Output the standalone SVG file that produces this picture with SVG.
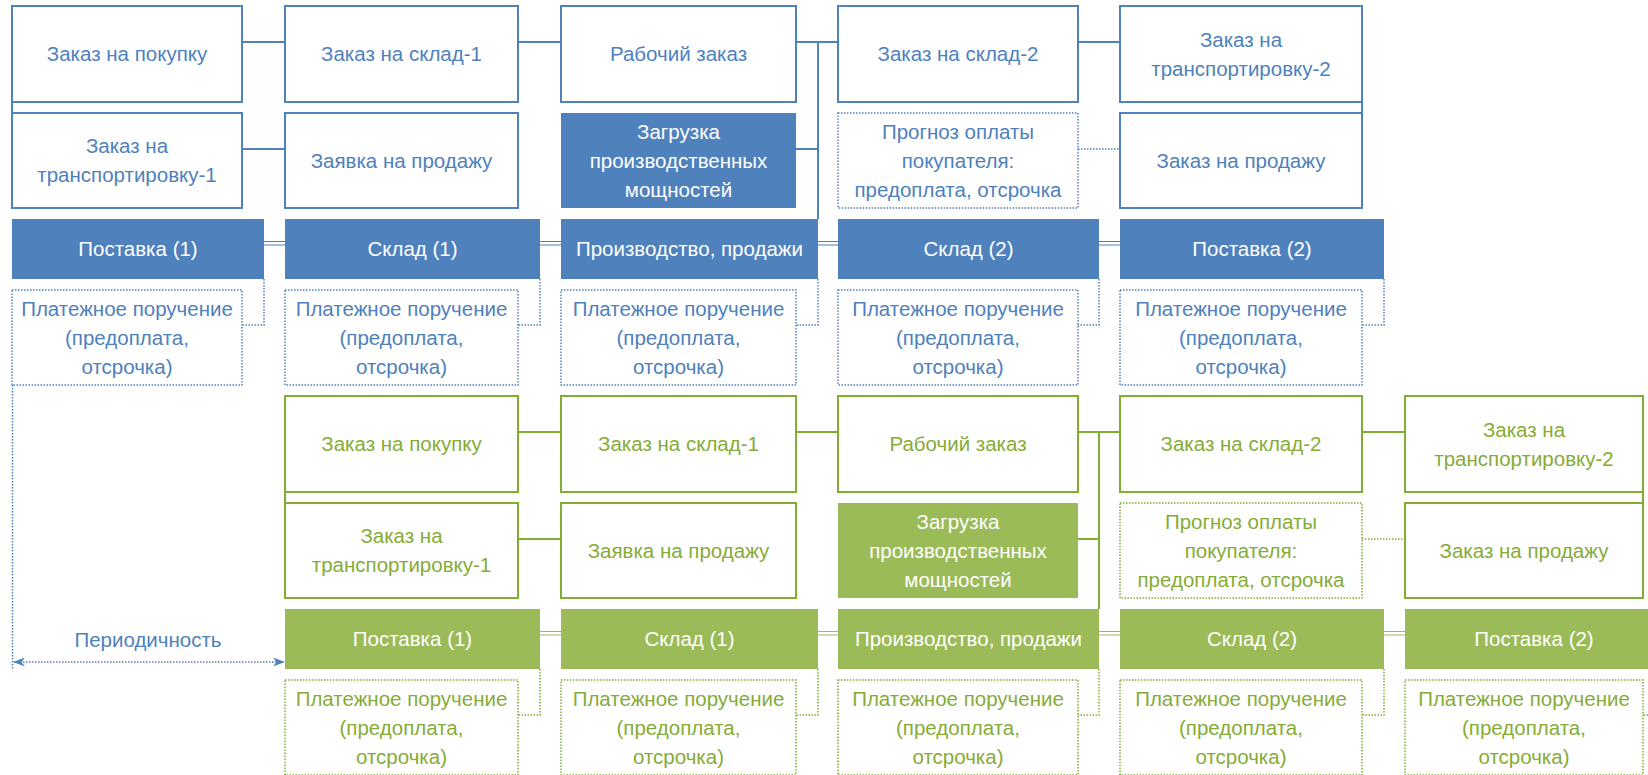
<svg xmlns="http://www.w3.org/2000/svg" width="1648" height="775" viewBox="0 0 1648 775">
<defs>
<style>
text{font-family:"Liberation Sans",Arial,sans-serif;font-size:20.5px;text-anchor:middle}
.bw{fill:#fff;stroke:#4F81BD;stroke-width:2}
.bf{fill:#4F81BD;stroke:none}
.bd{fill:#fff;stroke:#4F81BD;stroke-width:1.5;stroke-dasharray:1.5 1.5}
.tb{fill:#4F81BD}
.tw{fill:#fff}
.gw{fill:#fff;stroke:#7FAE33;stroke-width:2}
.gf{fill:#9BBB59;stroke:none}
.gd{fill:#fff;stroke:#7FAE33;stroke-width:1.5;stroke-dasharray:1.5 1.5}
.tg{fill:#86AC37}
.cb{fill:none;stroke:#4F81BD;stroke-width:2}
.cbd{fill:none;stroke:#4F81BD;stroke-width:1.5;stroke-dasharray:1.5 1.5}
.cb2{fill:none;stroke:#4F81BD;stroke-width:1.2}
.cg{fill:none;stroke:#7FAE33;stroke-width:2}
.cgd{fill:none;stroke:#7FAE33;stroke-width:1.5;stroke-dasharray:1.5 1.5}
.cg2{fill:none;stroke:#9BBB59;stroke-width:1.2}
</style>
<marker id="arr" viewBox="0 0 12 9" refX="11" refY="4.5" markerWidth="12" markerHeight="9" markerUnits="userSpaceOnUse" orient="auto-start-reverse">
<path d="M0,0 L12,4.5 L0,9 L3.5,4.5 z" fill="#4F81BD"/>
</marker>
</defs>

<g id="connectors">
<!-- blue solid -->
<path class="cb" d="M242 42H285 M518 42H561 M796 42H838 M818 42V219 M1078 42H1120 M242 149H285 M796 149H818 M12 102V113 M1362 102V113"/>
<!-- blue double lines between bars -->
<path class="cb2" d="M264 241.5H285 M264 245H285 M540 241.5H561 M540 245H561 M818 241.5H838 M818 245H838 M1099 241.5H1120 M1099 245H1120"/>
<!-- blue dotted -->
<path class="cbd" d="M1078 149H1120 M264 279V325H242 M540 279V325H518 M818 279V325H796 M1099 279V325H1078 M1384 279V325H1362"/>
<!-- green solid -->
<path class="cg" d="M518 432H561 M796 432H838 M1078 432H1120 M1099 432V609 M1362 432H1405 M518 539H561 M1078 539H1099 M285 492V503 M1643 492V503"/>
<!-- green double lines -->
<path class="cg2" d="M540 631.5H561 M540 635H561 M818 631.5H838 M818 635H838 M1099 631.5H1120 M1099 635H1120 M1384 631.5H1405 M1384 635H1405"/>
<!-- green dotted -->
<path class="cgd" d="M1362 539H1405 M540 669V715H518 M818 669V715H796 M1099 669V715H1078 M1384 669V715H1362 M1665 669V715H1643"/>
<!-- periodicity -->
<path class="cbd" d="M12.5 385V670"/>
<path class="cbd" d="M14 662H284" marker-start="url(#arr)" marker-end="url(#arr)"/>
<text id="periodicity" class="tb" x="148" y="647">Периодичность</text>
</g>

<!-- BLUE SECTION -->
<g id="b-zakaz-pokupka"><rect class="bw" x="12" y="6" width="230" height="96"/><text class="tb" x="127" y="61">Заказ на покупку</text></g>
<g id="b-zakaz-transp1"><rect class="bw" x="12" y="113" width="230" height="95"/><text class="tb"><tspan x="127" y="153">Заказ на</tspan><tspan x="127" y="182">транспортировку-1</tspan></text></g>
<g id="b-postavka1"><rect class="bf" x="12" y="219" width="252" height="60"/><text class="tw" x="138" y="256">Поставка (1)</text></g>
<g id="b-pay1"><rect class="bd" x="12" y="290" width="230" height="95"/><text class="tb"><tspan x="127" y="316">Платежное поручение</tspan><tspan x="127" y="345">(предоплата,</tspan><tspan x="127" y="374">отсрочка)</tspan></text></g>

<g id="b-zakaz-sklad1"><rect class="bw" x="285" y="6" width="233" height="96"/><text class="tb" x="401.5" y="61">Заказ на склад-1</text></g>
<g id="b-zayavka-prodazha"><rect class="bw" x="285" y="113" width="233" height="95"/><text class="tb" x="401.5" y="167.5">Заявка на продажу</text></g>
<g id="b-sklad1"><rect class="bf" x="285" y="219" width="255" height="60"/><text class="tw" x="412.5" y="256">Склад (1)</text></g>
<g id="b-pay2"><rect class="bd" x="285" y="290" width="233" height="95"/><text class="tb"><tspan x="401.5" y="316">Платежное поручение</tspan><tspan x="401.5" y="345">(предоплата,</tspan><tspan x="401.5" y="374">отсрочка)</tspan></text></g>

<g id="b-rabochiy-zakaz"><rect class="bw" x="561" y="6" width="235" height="96"/><text class="tb" x="678.5" y="61">Рабочий заказ</text></g>
<g id="b-zagruzka"><rect class="bf" x="561" y="113" width="235" height="95"/><text class="tw"><tspan x="678.5" y="139">Загрузка</tspan><tspan x="678.5" y="168">производственных</tspan><tspan x="678.5" y="197">мощностей</tspan></text></g>
<g id="b-proizvodstvo"><rect class="bf" x="561" y="219" width="257" height="60"/><text class="tw" x="689.5" y="256">Производство, продажи</text></g>
<g id="b-pay3"><rect class="bd" x="561" y="290" width="235" height="95"/><text class="tb"><tspan x="678.5" y="316">Платежное поручение</tspan><tspan x="678.5" y="345">(предоплата,</tspan><tspan x="678.5" y="374">отсрочка)</tspan></text></g>

<g id="b-zakaz-sklad2"><rect class="bw" x="838" y="6" width="240" height="96"/><text class="tb" x="958" y="61">Заказ на склад-2</text></g>
<g id="b-prognoz"><rect class="bd" x="838" y="113" width="240" height="95"/><text class="tb"><tspan x="958" y="139">Прогноз оплаты</tspan><tspan x="958" y="168">покупателя:</tspan><tspan x="958" y="197">предоплата, отсрочка</tspan></text></g>
<g id="b-sklad2"><rect class="bf" x="838" y="219" width="261" height="60"/><text class="tw" x="968.5" y="256">Склад (2)</text></g>
<g id="b-pay4"><rect class="bd" x="838" y="290" width="240" height="95"/><text class="tb"><tspan x="958" y="316">Платежное поручение</tspan><tspan x="958" y="345">(предоплата,</tspan><tspan x="958" y="374">отсрочка)</tspan></text></g>

<g id="b-zakaz-transp2"><rect class="bw" x="1120" y="6" width="242" height="96"/><text class="tb"><tspan x="1241" y="46.5">Заказ на</tspan><tspan x="1241" y="75.5">транспортировку-2</tspan></text></g>
<g id="b-zakaz-prodazha"><rect class="bw" x="1120" y="113" width="242" height="95"/><text class="tb" x="1241" y="167.5">Заказ на продажу</text></g>
<g id="b-postavka2"><rect class="bf" x="1120" y="219" width="264" height="60"/><text class="tw" x="1252" y="256">Поставка (2)</text></g>
<g id="b-pay5"><rect class="bd" x="1120" y="290" width="242" height="95"/><text class="tb"><tspan x="1241" y="316">Платежное поручение</tspan><tspan x="1241" y="345">(предоплата,</tspan><tspan x="1241" y="374">отсрочка)</tspan></text></g>

<!-- GREEN SECTION -->
<g id="g-zakaz-pokupka"><rect class="gw" x="285" y="396" width="233" height="96"/><text class="tg" x="401.5" y="451">Заказ на покупку</text></g>
<g id="g-zakaz-transp1"><rect class="gw" x="285" y="503" width="233" height="95"/><text class="tg"><tspan x="401.5" y="543">Заказ на</tspan><tspan x="401.5" y="572">транспортировку-1</tspan></text></g>
<g id="g-postavka1"><rect class="gf" x="285" y="609" width="255" height="60"/><text class="tw" x="412.5" y="646">Поставка (1)</text></g>
<g id="g-pay1"><rect class="gd" x="285" y="680" width="233" height="95"/><text class="tg"><tspan x="401.5" y="706">Платежное поручение</tspan><tspan x="401.5" y="735">(предоплата,</tspan><tspan x="401.5" y="764">отсрочка)</tspan></text></g>

<g id="g-zakaz-sklad1"><rect class="gw" x="561" y="396" width="235" height="96"/><text class="tg" x="678.5" y="451">Заказ на склад-1</text></g>
<g id="g-zayavka-prodazha"><rect class="gw" x="561" y="503" width="235" height="95"/><text class="tg" x="678.5" y="557.5">Заявка на продажу</text></g>
<g id="g-sklad1"><rect class="gf" x="561" y="609" width="257" height="60"/><text class="tw" x="689.5" y="646">Склад (1)</text></g>
<g id="g-pay2"><rect class="gd" x="561" y="680" width="235" height="95"/><text class="tg"><tspan x="678.5" y="706">Платежное поручение</tspan><tspan x="678.5" y="735">(предоплата,</tspan><tspan x="678.5" y="764">отсрочка)</tspan></text></g>

<g id="g-rabochiy-zakaz"><rect class="gw" x="838" y="396" width="240" height="96"/><text class="tg" x="958" y="451">Рабочий заказ</text></g>
<g id="g-zagruzka"><rect class="gf" x="838" y="503" width="240" height="95"/><text class="tw"><tspan x="958" y="529">Загрузка</tspan><tspan x="958" y="558">производственных</tspan><tspan x="958" y="587">мощностей</tspan></text></g>
<g id="g-proizvodstvo"><rect class="gf" x="838" y="609" width="261" height="60"/><text class="tw" x="968.5" y="646">Производство, продажи</text></g>
<g id="g-pay3"><rect class="gd" x="838" y="680" width="240" height="95"/><text class="tg"><tspan x="958" y="706">Платежное поручение</tspan><tspan x="958" y="735">(предоплата,</tspan><tspan x="958" y="764">отсрочка)</tspan></text></g>

<g id="g-zakaz-sklad2"><rect class="gw" x="1120" y="396" width="242" height="96"/><text class="tg" x="1241" y="451">Заказ на склад-2</text></g>
<g id="g-prognoz"><rect class="gd" x="1120" y="503" width="242" height="95"/><text class="tg"><tspan x="1241" y="529">Прогноз оплаты</tspan><tspan x="1241" y="558">покупателя:</tspan><tspan x="1241" y="587">предоплата, отсрочка</tspan></text></g>
<g id="g-sklad2"><rect class="gf" x="1120" y="609" width="264" height="60"/><text class="tw" x="1252" y="646">Склад (2)</text></g>
<g id="g-pay4"><rect class="gd" x="1120" y="680" width="242" height="95"/><text class="tg"><tspan x="1241" y="706">Платежное поручение</tspan><tspan x="1241" y="735">(предоплата,</tspan><tspan x="1241" y="764">отсрочка)</tspan></text></g>

<g id="g-zakaz-transp2"><rect class="gw" x="1405" y="396" width="238" height="96"/><text class="tg"><tspan x="1524" y="436.5">Заказ на</tspan><tspan x="1524" y="465.5">транспортировку-2</tspan></text></g>
<g id="g-zakaz-prodazha"><rect class="gw" x="1405" y="503" width="238" height="95"/><text class="tg" x="1524" y="557.5">Заказ на продажу</text></g>
<g id="g-postavka2"><rect class="gf" x="1405" y="609" width="260" height="60"/><text class="tw" x="1534" y="646">Поставка (2)</text></g>
<g id="g-pay5"><rect class="gd" x="1405" y="680" width="238" height="95"/><text class="tg"><tspan x="1524" y="706">Платежное поручение</tspan><tspan x="1524" y="735">(предоплата,</tspan><tspan x="1524" y="764">отсрочка)</tspan></text></g>
</svg>
